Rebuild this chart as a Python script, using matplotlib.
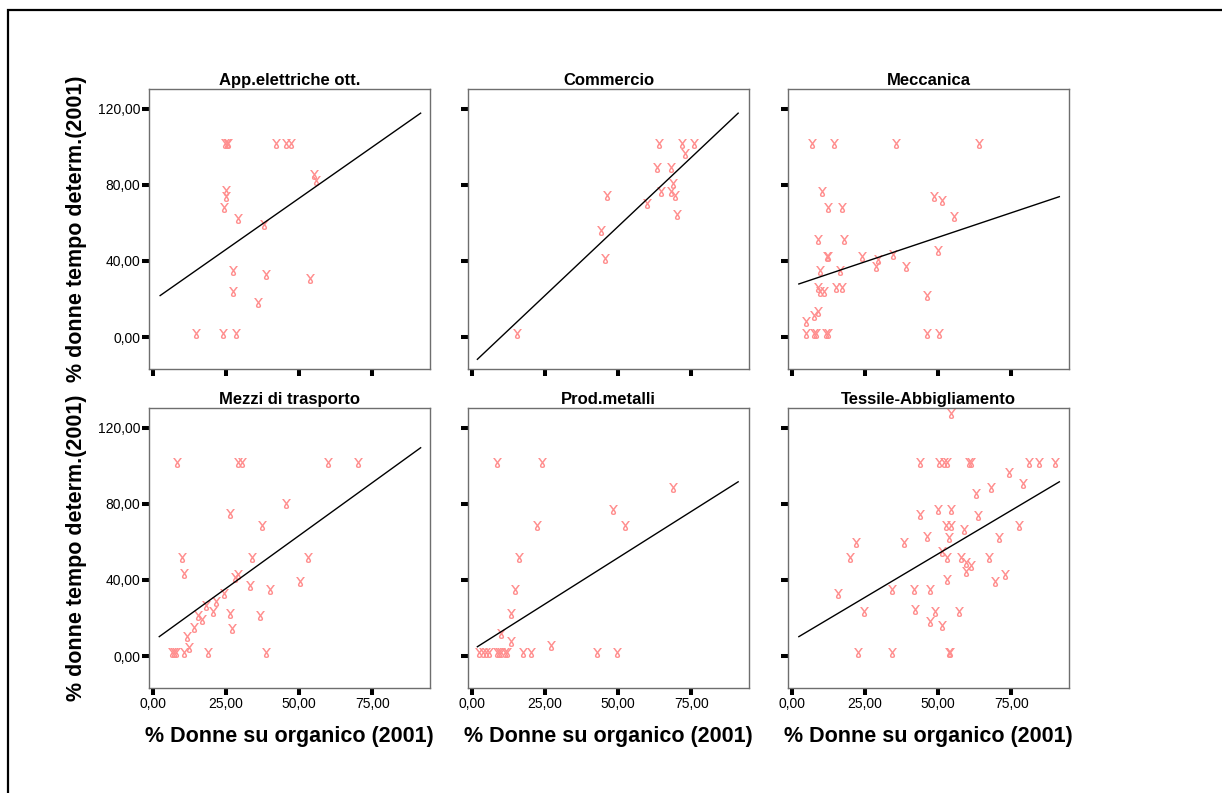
import numpy as np
import matplotlib
matplotlib.use("Agg")
import matplotlib.pyplot as plt
from matplotlib.patches import Rectangle
from matplotlib.textpath import TextPath
from matplotlib.font_manager import FontProperties
from matplotlib.path import Path

plt.rcParams['font.family'] = ['Liberation Sans', 'DejaVu Sans']

titles = ["App.elettriche ott.", "Commercio", "Meccanica",
          "Mezzi di trasporto", "Prod.metalli", "Tessile-Abbigliamento"]

x_app = [24.9, 25.3, 25.7, 42.2, 45.6, 47.2, 55.1, 55.9, 25.1, 25.1, 24.5, 29.2, 38.1,
         27.3, 38.75, 53.9, 27.3, 36.0, 14.9, 23.9, 28.6]
y_app = [100, 100, 100, 100, 100, 100, 83.5, 80.5, 75.3, 72.1, 66.5, 60.3, 57.1,
         33.1, 30.8, 28.9, 22.1, 16.1, 0, 0, 0]

x_com = [63.9, 72.0, 76.1, 72.7, 63.3, 68.0, 68.8, 64.5, 68.0, 69.3, 46.25, 59.8, 70.1,
         44.2, 45.6, 15.6]
y_com = [100, 100, 100, 94.8, 87.5, 87.5, 79.1, 74.9, 74.9, 72.8, 72.8, 68.5, 62.4,
         54.0, 39.2, 0]

x_mec = [7.0, 14.5, 35.6, 64.1, 10.4, 48.6, 51.3, 12.5, 17.3, 55.4, 9.1, 17.9, 49.9,
         12.2, 12.6, 24.1, 29.5, 34.7, 28.8, 39.0, 9.8, 16.7, 9.1, 9.8, 11.1, 15.2, 17.3,
         46.4, 9.1, 7.7, 5.0, 5.0, 7.7, 8.4, 11.8, 12.5, 46.4, 50.5]
y_mec = [100, 100, 100, 100, 74.9, 71.8, 69.7, 66.5, 66.5, 61.3, 49.6, 49.6, 43.5,
         40.4, 40.4, 40.4, 39.0, 41.3, 35.2, 35.2, 33.1, 33.1, 24.3, 22.1, 22.1, 24.3, 24.3,
         20.0, 11.6, 9.5, 6.4, 0, 0, 0, 0, 0, 0, 0]

x_mez = [8.3, 29.3, 30.5, 60.0, 70.2, 45.6, 26.5, 37.5, 10.2, 34.1, 53.2, 10.9, 28.0,
         29.3, 50.5, 33.4, 40.2, 24.4, 21.8, 18.4, 20.5, 26.5, 36.8, 15.6, 17.0, 14.3,
         27.2, 11.6, 12.3, 6.6, 7.3, 8.1, 10.7, 19.1, 38.9]
y_mez = [100, 100, 100, 100, 100, 78.6, 73.0, 66.9, 50.0, 50.0, 50.0, 41.8, 39.7,
         40.9, 37.4, 35.3, 33.4, 30.9, 26.9, 24.6, 21.7, 20.4, 19.5, 19.4, 17.3, 13.4,
         12.4, 8.2, 2.9, 0, 0, 0, 0, 0, 0]

x_met = [8.6, 23.9, 68.75, 48.4, 52.4, 22.4, 16.25, 14.9, 13.5, 10.1, 13.5, 27.2,
         2.6, 3.75, 5.1, 5.8, 8.6, 9.4, 10.1, 11.4, 12.0, 17.6, 20.3, 42.8, 49.7]
y_met = [100, 100, 87.0, 75.1, 66.9, 66.9, 50.0, 33.0, 20.4, 9.9, 5.9, 3.8,
         0, 0, 0, 0, 0, 0, 0, 0, 0, 0, 0, 0, 0]

x_tes = [54.5, 43.7, 50.2, 51.9, 53.2, 60.7, 61.4, 81.2, 84.6, 90.0, 74.3, 79.0, 68.2,
         62.8, 49.9, 54.5, 43.7, 63.5, 52.6, 54.5, 77.8, 58.7, 46.4, 53.9, 70.8, 21.9,
         38.25, 51.2, 19.9, 53.2, 58.0, 67.5, 59.4, 61.4, 59.4, 72.9, 53.2, 69.5, 15.8,
         34.2, 41.7, 47.1, 24.6, 42.3, 49.1, 57.3, 47.1, 51.2, 22.6, 34.2, 53.8, 54.2]
y_tes = [125.5, 100, 100, 100, 100, 100, 100, 100, 100, 100, 94.4, 89.1, 87.0,
         83.8, 75.4, 75.4, 72.5, 71.9, 66.9, 66.9, 66.9, 64.6, 61.1, 60.5, 60.5, 57.6,
         57.6, 53.2, 50.0, 50.0, 50.0, 50.0, 47.1, 45.8, 42.7, 40.9, 38.3, 37.4, 31.3,
         33.4, 33.4, 33.4, 21.7, 22.5, 21.7, 21.7, 16.4, 14.3, 0, 0, 0, 0]

xs = [x_app, x_com, x_mec, x_mez, x_met, x_tes]
ys = [y_app, y_com, y_mec, y_mez, y_met, y_tes]

# fit lines: (x start, y start, x end, y end)
fit_x0 = [2.6, 2.0, 2.5, 2.3, 2.0, 2.5]
fit_y0 = [21.8, -11.7, 27.9, 10.2, 4.9, 10.2]
fit_x1 = [91.5, 91.0, 91.4, 91.5, 91.0, 91.4]
fit_y1 = [117.7, 117.7, 73.8, 109.5, 91.6, 91.6]

xticks = [0, 25, 50, 75]
yticks = [0, 40, 80, 120]

W, H = 1222, 793
fig = plt.figure(figsize=(W / 100, H / 100), dpi=100)

# outer frame (only left and top edges are visible)
fig.add_artist(Rectangle((8 / W, -0.2), 1.5, 1.2 - 10 / H, transform=fig.transFigure,
                         fill=False, edgecolor='black', lw=1.6, clip_on=False))

# SPSS-like point glyph, sitting a bit above the data point
tp = TextPath((0, 0), '\u0264', size=10, prop=FontProperties(family='DejaVu Sans'))
ext = tp.get_extents()
sc = 10.0 / ext.height
v = tp.vertices.copy()
v[:, 0] = (v[:, 0] - (ext.x0 + ext.x1) / 2) * sc
v[:, 1] = (v[:, 1] - (ext.y0 + ext.y1) / 2) * sc + 3.5
glyph = Path(v, tp.codes)
msize = 2 * np.abs(v).max() * 0.72

col_left = [149, 468, 788]
row_top = [89, 408]
pw, ph = 281, 280

def fmt(t):
    return ('%.2f' % t).replace('.', ',')

for i in range(6):
    r, c = divmod(i, 3)
    ax = fig.add_axes([col_left[c] / W, 1 - (row_top[r] + ph) / H, pw / W, ph / H])
    ax.plot(xs[i], ys[i], ls='none', marker=glyph, ms=msize, mfc='#ff8f8f',
            mec='none', mew=0)
    ax.plot([fit_x0[i], fit_x1[i]], [fit_y0[i], fit_y1[i]], color='black', lw=1.0)
    ax.set_xlim(-1.2, 94.7)
    ax.set_ylim(-16.8, 130.4)
    ax.set_xticks(xticks)
    ax.set_yticks(yticks)
    ax.set_xticklabels([fmt(t) for t in xticks] if r == 1 else [])
    ax.set_yticklabels([fmt(t) for t in yticks] if c == 0 else [])
    ax.tick_params(direction='out', length=4.7, width=2.9, pad=1.5, labelsize=10,
                   color='black')
    for s in ax.spines.values():
        s.set_color('#6e6e6e')
        s.set_linewidth(1.0)
    ax.set_title(titles[i], fontsize=12, fontweight='bold', pad=3)
    if r == 1:
        ax.set_xlabel('% Donne su organico (2001)', fontsize=15.5, fontweight='bold',
                      labelpad=11)
    if c == 0:
        ax.set_ylabel('% donne tempo determ.(2001)', fontsize=15.5, fontweight='bold',
                      labelpad=8)

fig.savefig('out.png', dpi=100)
